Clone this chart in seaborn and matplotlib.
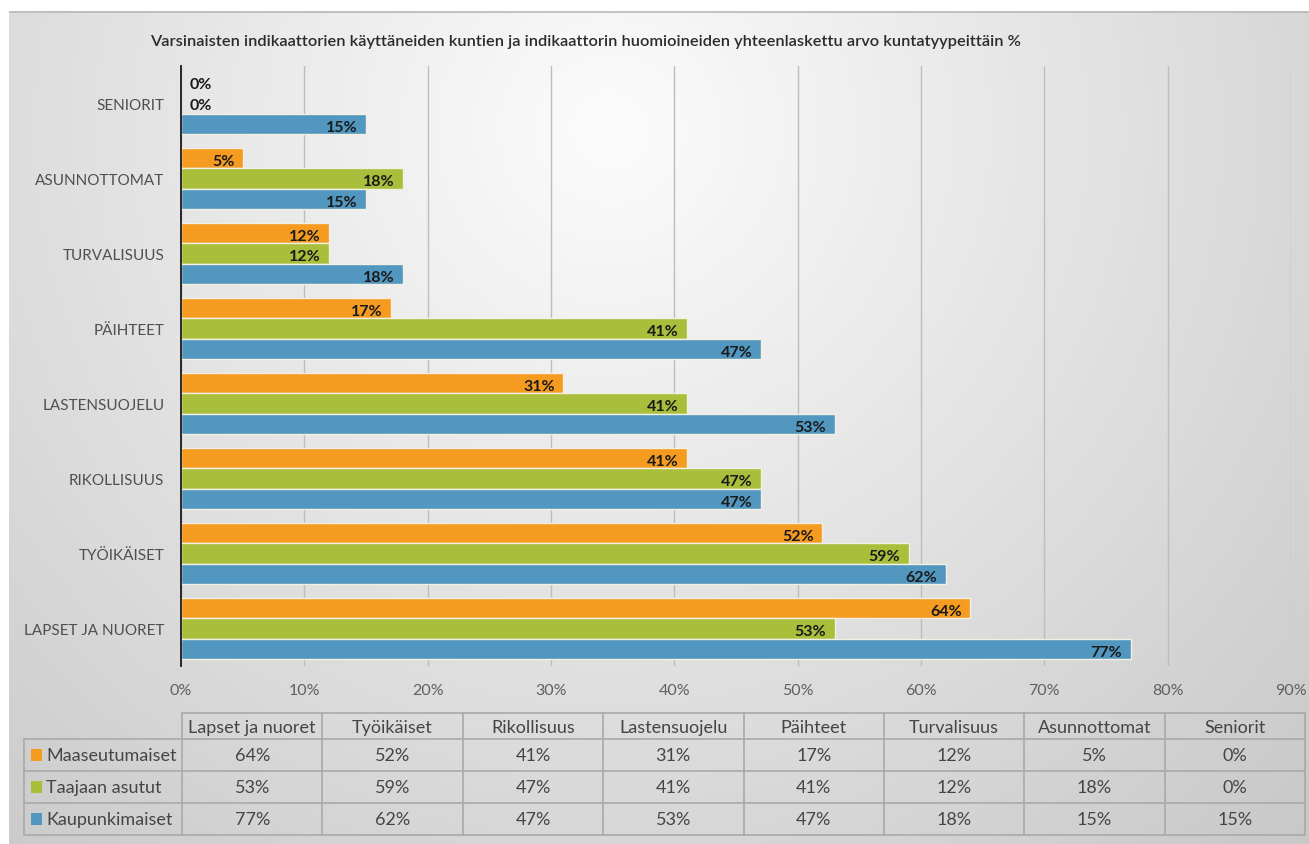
import numpy as np
import pandas as pd
import matplotlib
matplotlib.use("Agg")
import matplotlib.pyplot as plt
from matplotlib.lines import Line2D
from matplotlib.patches import Rectangle
import seaborn as sns

# ---- data (table order: first column = bottom bar group) ----
categories = ["LAPSET JA NUORET", "TYÖIKÄISET", "RIKOLLISUUS", "LASTENSUOJELU",
              "PÄIHTEET", "TURVALISUUS", "ASUNNOTTOMAT", "SENIORIT"]
table_headers = ["Lapset ja nuoret", "Työikäiset", "Rikollisuus", "Lastensuojelu",
                 "Päihteet", "Turvalisuus", "Asunnottomat", "Seniorit"]
series_names = ["Maaseutumaiset", "Taajaan asutut", "Kaupunkimaiset"]
maaseutumaiset = [64, 52, 41, 31, 17, 12, 5, 0]
taajaan_asutut = [53, 59, 47, 41, 41, 12, 18, 0]
kaupunkimaiset = [77, 62, 47, 53, 47, 18, 15, 15]
x_ticks = [0, 10, 20, 30, 40, 50, 60, 70, 80, 90]
title = ("Varsinaisten indikaattorien käyttäneiden kuntien ja indikaattorin "
         "huomioineiden yhteenlaskettu arvo kuntatyypeittäin %")

colors = ["#F59B20", "#A9BE3A", "#5297C0"]
series_values = [maaseutumaiset, taajaan_asutut, kaupunkimaiset]

rows = []
for name, vals in zip(series_names, series_values):
    for cat, v in zip(categories, vals):
        rows.append({"kategoria": cat, "tyyppi": name, "arvo": v})
df = pd.DataFrame(rows)

sns.set_style("white")
plt.rcParams["font.family"] = ["Lato", "DejaVu Sans"]

W, H = 1309, 845
fig = plt.figure(figsize=(W / 100, H / 100), dpi=100)
fig.patch.set_facecolor("white")


def px_axes(x0, y0, x1, y1, **kw):
    """Axes placed by pixel box (origin top-left)."""
    return fig.add_axes([x0 / W, 1 - y1 / H, (x1 - x0) / W, (y1 - y0) / H], **kw)


# ---- soft radial background panel ----
bg = px_axes(9, 12, W, H, zorder=0)
xs = np.linspace(9, W, 400)
ys = np.linspace(12, H, 260)
XX, YY = np.meshgrid(xs, ys)
d = np.sqrt((XX - 610) ** 2 + (YY - 130) ** 2) / 1000.0
shade = np.clip(252 - 52 * d, 195, 252) / 255.0
img = np.dstack([shade, shade, shade])
bg.imshow(img, aspect="auto", extent=(9, W, H, 12), interpolation="bilinear")
bg.set_xlim(9, W)
bg.set_ylim(H, 12)
bg.axis("off")
bg.add_line(Line2D([9, W], [12.5, 12.5], color="#b8b8b8", lw=1.2))

# ---- bar chart ----
ax = px_axes(181, 67, 1291, 667, zorder=2)
ax.set_facecolor("none")
bar_order = categories[::-1]
sns.barplot(data=df, y="kategoria", x="arvo", hue="tyyppi",
            order=bar_order, hue_order=series_names, palette=colors,
            orient="h", width=0.82, edgecolor="#f3efe2", linewidth=1.0,
            saturation=1, legend=False, ax=ax)

ax.set_xlim(0, 90)
ax.set_xticks(x_ticks)
ax.set_xticklabels([f"{t}%" for t in x_ticks])
ax.set_xlabel("")
ax.set_ylabel("")
ax.grid(axis="x", color="#bdbdbd", lw=1.0)
ax.grid(axis="y", visible=False)
ax.set_axisbelow(True)
for side in ["top", "right", "bottom"]:
    ax.spines[side].set_visible(False)
ax.spines["left"].set_color("#1a1a1a")
ax.spines["left"].set_linewidth(1.3)
ax.tick_params(axis="x", length=0, pad=12, labelsize=11.5, labelcolor="#606060")
ax.tick_params(axis="y", length=0, pad=12, labelsize=11, labelcolor="#505050")

for container, vals in zip(ax.containers, series_values):
    lookup = dict(zip(categories, vals))
    for rect, cat in zip(container.patches, bar_order):
        v = lookup[cat]
        yc = rect.get_y() + rect.get_height() / 2
        if v > 0:
            ax.annotate(f"{v}%", (rect.get_width(), yc), xytext=(-6, -2),
                        textcoords="offset points", ha="right", va="center",
                        fontsize=11.5, fontweight="bold", color="#1a1a1a")
        else:
            ax.annotate(f"{v}%", (0, yc), xytext=(6, -1),
                        textcoords="offset points", ha="left", va="center",
                        fontsize=11.5, fontweight="bold", color="#1a1a1a")

fig.text(150 / W, 1 - 42 / H, title, ha="left", va="center",
         fontsize=11.8, fontweight="semibold", color="#2b2b2b")

# ---- data table ----
tab = px_axes(24, 714, 1305, 836, zorder=2)
tab.set_xlim(24, 1305)
tab.set_ylim(836, 714)
tab.axis("off")
line_c = "#a9a9a9"
col_left = 182
col_w = (1305 - col_left) / len(table_headers)
row_y = [714, 740, 772, 804, 836]

tab.add_line(Line2D([col_left, 1305], [row_y[0], row_y[0]], color=line_c, lw=1.2, clip_on=False))
for y in row_y[1:]:
    tab.add_line(Line2D([24, 1305], [y, y], color=line_c, lw=1.2, clip_on=False))
tab.add_line(Line2D([24, 24], [row_y[1], row_y[-1]], color=line_c, lw=1.2, clip_on=False))
for i in range(len(table_headers) + 1):
    x = col_left + i * col_w
    tab.add_line(Line2D([x, x], [row_y[0], row_y[-1]], color=line_c, lw=1.2, clip_on=False))

txt_c = "#454545"
for i, h in enumerate(table_headers):
    tab.text(col_left + (i + 0.5) * col_w, (row_y[0] + row_y[1]) / 2 + 1, h,
             ha="center", va="center", fontsize=13, color=txt_c)

for r, (name, vals, c) in enumerate(zip(series_names, series_values, colors)):
    yc = (row_y[r + 1] + row_y[r + 2]) / 2
    tab.add_patch(Rectangle((31, yc - 6), 11, 12, facecolor=c, edgecolor="none", clip_on=False))
    tab.text(46, yc, name, ha="left", va="center", fontsize=13, color=txt_c)
    for i, v in enumerate(vals):
        tab.text(col_left + (i + 0.5) * col_w, yc, f"{v}%",
                 ha="center", va="center", fontsize=13, color=txt_c)

fig.savefig("out.png", dpi=100)
